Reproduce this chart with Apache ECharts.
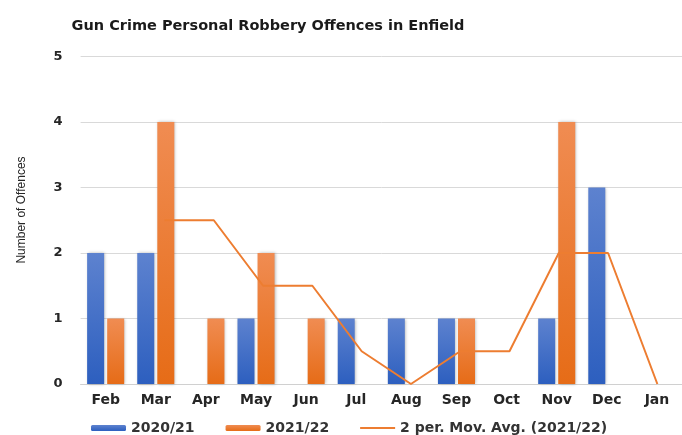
<!DOCTYPE html>
<html>
<head>
<meta charset="utf-8">
<title>Gun Crime Personal Robbery Offences in Enfield</title>
<script src="https://cdn.jsdelivr.net/npm/echarts@6/dist/echarts.min.js"></script>
<style>
  html, body { margin: 0; padding: 0; background: #fff; }
  #chart { width: 682px; height: 435px; }
</style>
</head>
<body>
<div id="chart"></div>
<script>
// months (financial year, Feb -> Jan)
const months = ['Feb', 'Mar', 'Apr', 'May', 'Jun', 'Jul', 'Aug', 'Sep', 'Oct', 'Nov', 'Dec', 'Jan']
const offences2021 = [2, 2, 0, 1, 0, 1, 1, 1, 0, 1, 3, 0]
const offences2122 = [1, 4, 1, 2, 1, 0, 0, 1, 0, 4, 0, 0]
// 2 period moving average of 2021/22, as drawn on the picture
const movAvg2122 = ['-', 2.5, 2.5, 1.5, 1.5, 0.5, 0, 0.5, 0.5, 2, 2, 0]
const yTicks = [0, 1, 2, 3, 4, 5]

const chartInstance = echarts.init(document.getElementById('chart'), null, { renderer: 'canvas' })

const barShadow = {
  shadowColor: 'rgba(0, 0, 0, 0.3)',
  shadowBlur: 3,
  shadowOffsetX: 1
}

const option = {
  animation: false,
  textStyle: { fontFamily: 'DejaVu Sans' },
  title: {
    text: 'Gun Crime Personal Robbery Offences in Enfield',
    left: 263,
    top: 14,
    textAlign: 'center',
    textStyle: {
      fontFamily: 'DejaVu Sans',
      fontSize: 14.5,
      fontWeight: 'bold',
      color: '#1a1a1a'
    }
  },
  legend: {
    left: 86,
    top: 416,
    itemWidth: 35,
    itemHeight: 6,
    itemGap: 31,
    textStyle: { fontSize: 14, fontWeight: 'bold', color: '#333' },
    data: [
      '2020/21',
      '2021/22',
      // thin line icon for the trendline
      { name: '2 per. Mov. Avg. (2021/22)', icon: 'path://M0,0L38,0L38,2L0,2Z' }
    ]
  },
  // two grids: the trendline sits a little right of the category centres
  grid: [
    { left: 80.6, top: 56.5, width: 610.8, height: 327.5 },
    { left: 90.6, top: 56.5, width: 610.8, height: 327.5 }
  ],
  xAxis: [
    {
      type: 'category',
      data: months,
      gridIndex: 0,
      axisTick: { show: false },
      axisLine: { lineStyle: { color: '#d0d0d0', width: 1 } },
      axisLabel: {
        margin: 9,
        fontSize: 14,
        fontWeight: 'bold',
        color: '#262626'
      }
    },
    { type: 'category', data: months, gridIndex: 1, show: false }
  ],
  yAxis: [
    {
      type: 'value',
      gridIndex: 0,
      min: yTicks[0],
      max: yTicks[yTicks.length - 1],
      interval: 1,
      axisLine: { show: false },
      axisTick: { show: false },
      splitLine: { lineStyle: { color: '#d9d9d9', width: 1 } },
      axisLabel: {
        margin: 18,
        fontSize: 13,
        fontWeight: 'bold',
        color: '#262626'
      }
    },
    { type: 'value', gridIndex: 1, min: 0, max: 5, show: false }
  ],
  graphic: [
    {
      type: 'text',
      x: 22,
      y: 210,
      rotation: Math.PI / 2,
      style: {
        text: 'Number of Offences',
        fill: '#262626',
        font: '12px "Liberation Sans Narrow", "Liberation Sans"',
        align: 'center',
        verticalAlign: 'middle'
      }
    }
  ],
  series: [
    {
      name: '2020/21',
      type: 'bar',
      xAxisIndex: 0,
      yAxisIndex: 0,
      barWidth: 17,
      barGap: '18%',
      data: offences2021,
      itemStyle: Object.assign({
        color: new echarts.graphic.LinearGradient(0, 0, 0, 1, [
          { offset: 0, color: '#5d82cf' },
          { offset: 1, color: '#2d5fbf' }
        ])
      }, barShadow)
    },
    {
      name: '2021/22',
      type: 'bar',
      xAxisIndex: 0,
      yAxisIndex: 0,
      barWidth: 17,
      barGap: '18%',
      data: offences2122,
      itemStyle: Object.assign({
        color: new echarts.graphic.LinearGradient(0, 0, 0, 1, [
          { offset: 0, color: '#f08c52' },
          { offset: 1, color: '#e66c17' }
        ])
      }, barShadow)
    },
    {
      name: '2 per. Mov. Avg. (2021/22)',
      type: 'line',
      xAxisIndex: 1,
      yAxisIndex: 1,
      z: 5,
      symbol: 'none',
      data: movAvg2122,
      lineStyle: { color: '#ed7d31', width: 2 },
      itemStyle: { color: '#ed7d31' }
    }
  ]
}

chartInstance.setOption(option)
</script>
</body>
</html>
